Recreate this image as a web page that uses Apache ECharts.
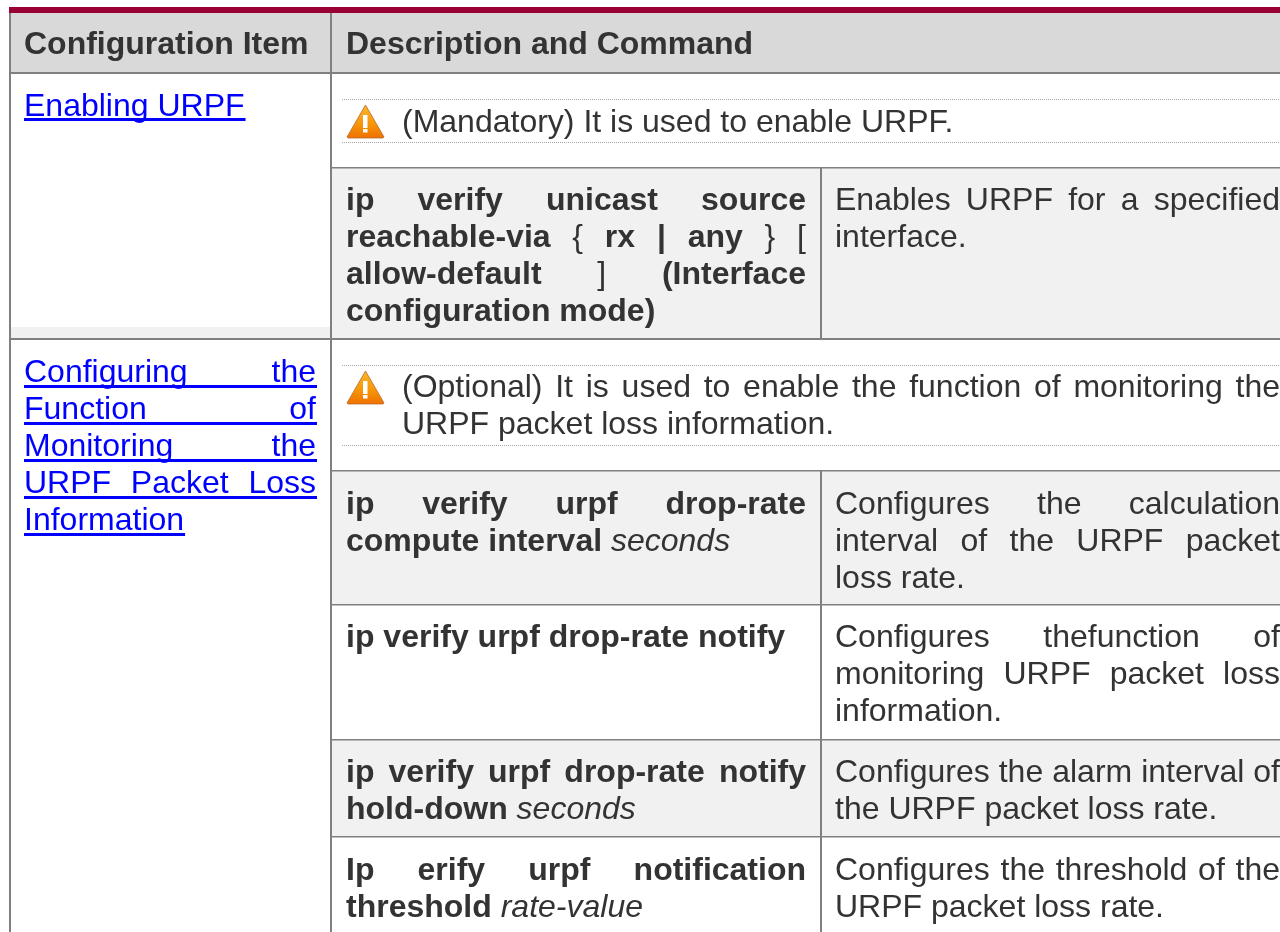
<!DOCTYPE html>
<html>
<head>
<meta charset="utf-8" />
<title>Configuration Item table</title>
<script src="https://cdn.jsdelivr.net/npm/echarts@6/dist/echarts.min.js"></script>
<style>
  html, body { margin: 0; padding: 0; background: #fff; }
  #myChart { width: 1280px; height: 932px; }
</style>
</head>
<body>
<div id="myChart"></div>
<script>
// cell texts, one entry per printed line. n = normal, b = bold, i = italic
const headers = ["Configuration Item", "Description and Command"];
const enablingItem = [[["n", "Enabling URPF"]]];
const monitoringItem = [
  [["n", "Configuring the"]],
  [["n", "Function of"]],
  [["n", "Monitoring the"]],
  [["n", "URPF Packet Loss"]],
  [["n", "Information"]],
];
const enablingNote = [[["n", "(Mandatory) It is used to enable URPF."]]];
const enablingCmd = [
  [["b", "ip verify unicast source"]],
  [["b", "reachable-via"], ["n", "{"], ["b", "rx | any"], ["n", "} ["]],
  [["b", "allow-default"], ["n", "]"], ["b", "(Interface"]],
  [["b", "configuration mode)"]],
];
const enablingDesc = [
  [["n", "Enables URPF for a specified"]],
  [["n", "interface."]],
];
const monitoringNote = [
  [["n", "(Optional) It is used to enable the function of monitoring the"]],
  [["n", "URPF packet loss information."]],
];
const computeCmd = [
  [["b", "ip verify urpf drop-rate"]],
  [["b", "compute interval"], ["i", "seconds"]],
];
const computeDesc = [
  [["n", "Configures the calculation"]],
  [["n", "interval of the URPF packet"]],
  [["n", "loss rate."]],
];
const notifyCmd = [[["b", "ip verify urpf drop-rate notify"]]];
const notifyDesc = [
  [["n", "Configures thefunction of"]],
  [["n", "monitoring URPF packet loss"]],
  [["n", "information."]],
];
const holdCmd = [
  [["b", "ip verify urpf drop-rate notify"]],
  [["b", "hold-down"], ["i", "seconds"]],
];
const holdDesc = [
  [["n", "Configures the alarm interval of"]],
  [["n", "the URPF packet loss rate."]],
];
const thresholdCmd = [
  [["b", "Ip erify urpf notification"]],
  [["b", "threshold"], ["i", "rate-value"]],
];
const thresholdDesc = [
  [["n", "Configures the threshold of the"]],
  [["n", "URPF packet loss rate."]],
];

// layout, kept apart from the texts above
const FONT = '"Liberation Sans", Arial, sans-serif';
const FONT_SIZE = 32;
const LINE_H = 37;
const TEXT_COLOR = "#333333";
const LINK_COLOR = "#0000ff";
const LINE_COLOR = "#808080";
const ROW_FILL = "#f1f1f1";

const COL_ITEM = [24, 316];
const COL_NOTE = [402, 1280];
const COL_CMD = [346, 806];
const COL_DESC = [835, 1280];

// base is the baseline of the first line, underline its distance to the link rule
const cells = [
  { lines: [[["b", headers[0]]]], col: [24, 320], base: 53 },
  { lines: [[["b", headers[1]]]], col: [346, 1280], base: 53 },
  { lines: enablingItem, col: COL_ITEM, base: 115, underline: 3 },
  { lines: monitoringItem, col: COL_ITEM, base: 381, underline: 4 },
  { lines: enablingNote, col: COL_NOTE, base: 131 },
  { lines: monitoringNote, col: COL_NOTE, base: 396 },
  { lines: enablingCmd, col: COL_CMD, base: 209 },
  { lines: enablingDesc, col: COL_DESC, base: 209 },
  { lines: computeCmd, col: COL_CMD, base: 513 },
  { lines: computeDesc, col: COL_DESC, base: 513 },
  { lines: notifyCmd, col: COL_CMD, base: 646 },
  { lines: notifyDesc, col: COL_DESC, base: 646 },
  { lines: holdCmd, col: COL_CMD, base: 781 },
  { lines: holdDesc, col: COL_DESC, base: 781 },
  { lines: thresholdCmd, col: COL_CMD, base: 879 },
  { lines: thresholdDesc, col: COL_DESC, base: 879 },
];

let ctx = document.createElement("canvas").getContext("2d");

function fontOf(kind) {
  if (kind === "b") return "bold " + FONT_SIZE + "px " + FONT;
  if (kind === "i") return "italic " + FONT_SIZE + "px " + FONT;
  return FONT_SIZE + "px " + FONT;
}

function widthOf(text, kind) {
  ctx.font = fontOf(kind);
  return ctx.measureText(text).width;
}

function textEl(text, kind, x, base, color) {
  return {
    type: "text",
    silent: true,
    style: {
      text: text,
      x: x,
      y: base - 8,
      fill: color,
      font: fontOf(kind),
      align: "left",
      verticalAlign: "middle",
    },
  };
}

function rectEl(x, y, w, h, color) {
  return {
    type: "rect",
    silent: true,
    shape: { x: x, y: y, width: w, height: h },
    style: { fill: color },
  };
}

function dottedEl(y) {
  return {
    type: "line",
    silent: true,
    shape: { x1: 342, y1: y + 0.5, x2: 1280, y2: y + 0.5 },
    style: { stroke: "#a6a6a6", lineWidth: 1, lineDash: [1, 1] },
  };
}

// the orange warning sign, top is the y of the tip
function warningEl(top) {
  return {
    type: "group",
    silent: true,
    children: [
      {
        type: "polygon",
        shape: {
          points: [
            [365.5, top],
            [384, top + 32],
            [383, top + 33],
            [348, top + 33],
            [347, top + 32],
          ],
        },
        style: {
          fill: new echarts.graphic.LinearGradient(0, 0, 0, 1, [
            { offset: 0, color: "#fbb62c" },
            { offset: 0.6, color: "#f79406" },
            { offset: 1, color: "#ee6f00" },
          ]),
          stroke: "#b9692a",
          lineWidth: 0.8,
        },
      },
      rectEl(363, top + 10, 4.5, 13, "#ffffff"),
      rectEl(363, top + 24, 4.5, 3.5, "#ffffff"),
    ],
  };
}

// one printed line: words spread to the full column unless it is the last one
function lineEls(line, col, base, justify, color) {
  let words = [];
  line.forEach(function (seg) {
    seg[1].split(" ").forEach(function (w) {
      words.push({ text: w, kind: seg[0], width: widthOf(w, seg[0]) });
    });
  });
  let total = words.reduce(function (s, w) {
    return s + w.width;
  }, 0);
  let gap = widthOf(" ", "n");
  if (justify && words.length > 1) {
    gap = (col[1] - col[0] - total) / (words.length - 1);
  }
  let els = [];
  let x = col[0];
  words.forEach(function (w) {
    els.push(textEl(w.text, w.kind, x, base, color));
    x += w.width + gap;
  });
  return { els: els, end: x - gap };
}

function buildGraphic() {
  let g = [];
  // fills
  g.push(rectEl(11, 13, 1269, 59, "#d9d9d9"));
  g.push(rectEl(11, 327, 319, 11, ROW_FILL));
  g.push(rectEl(332, 168, 948, 170, ROW_FILL));
  g.push(rectEl(332, 471, 948, 133, ROW_FILL));
  g.push(rectEl(332, 740, 948, 96, ROW_FILL));
  // red top bar
  g.push(rectEl(9, 7, 1271, 6, "#990033"));
  // rules
  g.push(rectEl(9, 13, 2, 919, LINE_COLOR));
  g.push(rectEl(330, 13, 2, 919, LINE_COLOR));
  g.push(rectEl(820, 168, 2, 170, LINE_COLOR));
  g.push(rectEl(820, 471, 2, 461, LINE_COLOR));
  g.push(rectEl(9, 72, 1271, 2, LINE_COLOR));
  g.push(rectEl(9, 338, 1271, 2, LINE_COLOR));
  g.push(rectEl(332, 167, 948, 1.5, LINE_COLOR));
  g.push(rectEl(332, 470, 948, 1.5, LINE_COLOR));
  g.push(rectEl(332, 604, 948, 1.5, LINE_COLOR));
  g.push(rectEl(332, 739, 948, 1.5, LINE_COLOR));
  g.push(rectEl(332, 836, 948, 1.5, LINE_COLOR));
  // notes with the warning sign between dotted lines
  g.push(dottedEl(99), dottedEl(142), dottedEl(365), dottedEl(445));
  g.push(warningEl(105), warningEl(371));
  // texts
  cells.forEach(function (cell) {
    cell.lines.forEach(function (line, i) {
      let last = i === cell.lines.length - 1;
      let base = cell.base + i * LINE_H;
      let color = cell.underline ? LINK_COLOR : TEXT_COLOR;
      let res = lineEls(line, cell.col, base, !last, color);
      g = g.concat(res.els);
      if (cell.underline) {
        g.push(rectEl(cell.col[0], base + cell.underline, res.end + 1 - cell.col[0], 3, LINK_COLOR));
      }
    });
  });
  return g;
}

let myChart = echarts.init(document.getElementById("myChart"), null, {
  renderer: "canvas",
  width: 1280,
  height: 932,
});
myChart.setOption({
  animation: false,
  backgroundColor: "#ffffff",
  graphic: { elements: buildGraphic() },
});
</script>
</body>
</html>
